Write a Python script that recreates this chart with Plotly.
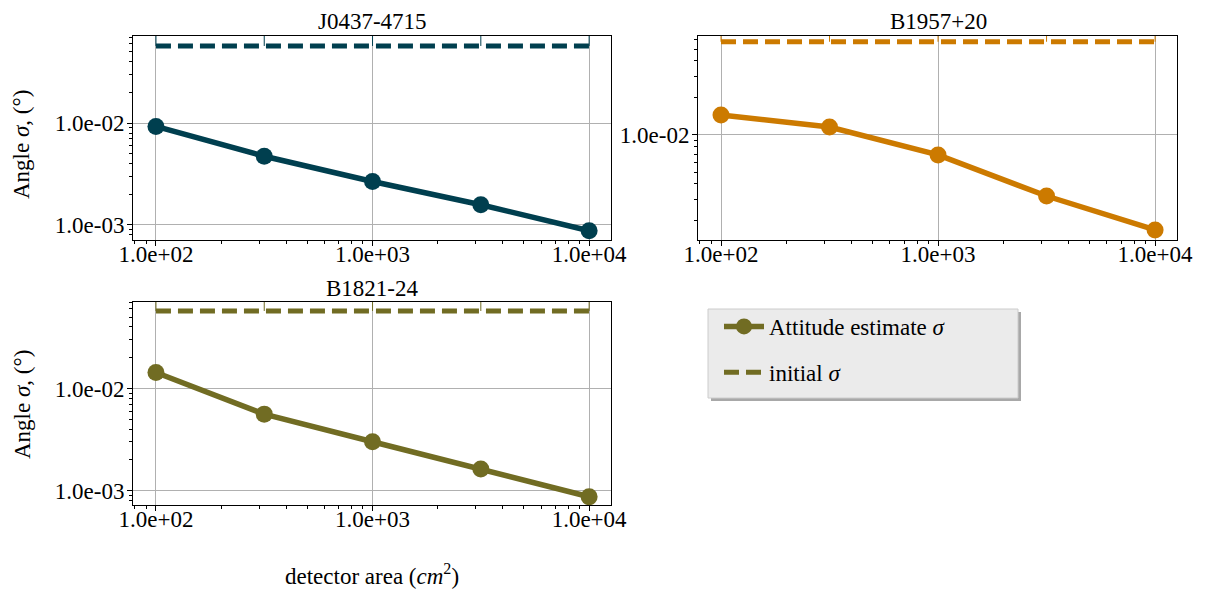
import plotly.graph_objects as go

# ---------------- data ----------------
area = [100, 316.2, 1000, 3162, 10000]
j0437_sigma = [0.00928, 0.00473, 0.00267, 0.00158, 0.000877]
b1957_sigma = [0.01455, 0.01161, 0.00688, 0.00319, 0.00169]
b1821_sigma = [0.01433, 0.00561, 0.00301, 0.00163, 0.000873]
initial_sigma = [0.0573, 0.0573, 0.0573, 0.0573, 0.0573]
initial_err_up = [1.0, 1.0, 1.0, 1.0, 1.0]

titles = ["J0437-4715", "B1957+20", "B1821-24"]
colors = ["#003f4f", "#cc7a00", "#716c23"]
series = [j0437_sigma, b1957_sigma, b1821_sigma]

x_tickvals = [100, 1000, 10000]
x_ticktext = ["1.0e+02", "1.0e+03", "1.0e+04"]
y_tickvals = [0.001, 0.01]
y_ticktext = ["1.0e-03", "1.0e-02"]

FONT = "Liberation Serif"
FS = 23
OFF = 8                      # default page body margin
W, H = 1205 - OFF, 589 - OFF


def fx(px):
    return (px - OFF) / W


def fy(py):
    return 1 - (py - OFF) / H


fig = go.Figure()

axes_px = [  # (left, right, top, bottom) in page pixels
    (133, 611, 36, 240),
    (698, 1177, 36, 240),
    (133, 611, 302, 505),
]
title_pos = [(372, 22), (938, 22), (372, 288)]
y_ranges = [(-3.148, -1.144), (-2.854, -1.195), (-3.140, -1.154)]
x_range = (1.894, 4.101)

x_minor = [m * 10 ** e for e in (1, 2, 3) for m in range(2, 10)]
y_minor = [m * 10.0 ** e for e in (-4, -3, -2, -1) for m in range(2, 10)]

for i, (name, col, vals) in enumerate(zip(titles, colors, series)):
    n = "" if i == 0 else str(i + 1)
    xa, ya = "x" + n, "y" + n
    show = i == 2
    fig.add_trace(go.Scatter(
        x=area, y=vals, xaxis=xa, yaxis=ya, mode="lines+markers",
        line=dict(color=col, width=5.5),
        marker=dict(color=col, size=17),
        name="Attitude estimate <i>σ</i>", showlegend=show,
        legendgroup="a",
    ))
    fig.add_trace(go.Scatter(
        x=area, y=initial_sigma, xaxis=xa, yaxis=ya, mode="lines",
        line=dict(color=col, width=5, dash="15px,7px"),
        error_y=dict(type="data", symmetric=False, array=initial_err_up,
                     arrayminus=[0] * len(area), thickness=1, width=0,
                     color=col),
        name="initial <i>σ</i>", showlegend=show, legendgroup="b",
    ))

    l, r, t, b = axes_px[i]
    axis_common = dict(
        showline=True, linecolor="black", linewidth=1, mirror=True,
        ticks="outside", ticklen=5, tickcolor="black",
        showgrid=True, gridcolor="#b0b0b0", gridwidth=1,
        zeroline=False, tickfont=dict(family=FONT, size=FS, color="black"),
        type="log", automargin=False,
    )
    fig.layout["xaxis" + n] = dict(
        axis_common, domain=[fx(l), fx(r)], range=list(x_range),
        anchor=ya, tickmode="array", tickvals=x_tickvals, ticktext=x_ticktext,
        ticklabelstandoff=-12,
        minor=dict(tickmode="array", tickvals=x_minor, ticks="outside",
                   ticklen=3, tickcolor="black", showgrid=False),
    )
    fig.layout["yaxis" + n] = dict(
        axis_common, domain=[fy(b), fy(t)], range=list(y_ranges[i]),
        anchor=xa, tickmode="array", tickvals=y_tickvals, ticktext=y_ticktext,
        ticklabelstandoff=-2,
        minor=dict(tickmode="array", tickvals=y_minor, ticks="outside",
                   ticklen=3, tickcolor="black", showgrid=False),
    )
    tx, ty = title_pos[i]
    fig.add_annotation(text=name, xref="paper", yref="paper",
                       x=fx(tx), y=fy(ty),
                       xanchor="center", yanchor="middle", showarrow=False,
                       font=dict(family=FONT, size=FS, color="black"))

# y-axis titles
for yc in (145, 405):
    fig.add_annotation(text="Angle <i>σ</i>, (°)", xref="paper", yref="paper",
                       x=fx(22), y=fy(yc), textangle=-90,
                       xanchor="center", yanchor="middle", showarrow=False,
                       font=dict(family=FONT, size=FS, color="black"))
# x-axis title
fig.add_annotation(text="detector area (<i>cm</i><sup>2</sup>)", xref="paper",
                   yref="paper", x=fx(372), y=fy(574), xanchor="center",
                   yanchor="middle", showarrow=False,
                   font=dict(family=FONT, size=FS, color="black"))

# legend frame with shadow
fig.add_shape(type="rect", xref="paper", yref="paper",
              x0=fx(711), x1=fx(1021), y0=fy(401), y1=fy(312),
              fillcolor="#a8a8a8", line=dict(width=0), layer="below")
fig.add_shape(type="rect", xref="paper", yref="paper",
              x0=fx(708), x1=fx(1018), y0=fy(398), y1=fy(309),
              fillcolor="#ebebeb", line=dict(color="#cccccc", width=1),
              layer="below")

fig.update_layout(
    width=W, height=H, margin=dict(l=0, r=0, t=0, b=0, autoexpand=False),
    paper_bgcolor="white", plot_bgcolor="white",
    showlegend=True,
    legend=dict(x=fx(719), y=fy(305), xanchor="left", yanchor="top",
                bgcolor="rgba(0,0,0,0)", borderwidth=0,
                traceorder="grouped", tracegroupgap=13,
                font=dict(family=FONT, size=FS, color="black"),
                itemwidth=40),
)

fig.write_html("out.html")
